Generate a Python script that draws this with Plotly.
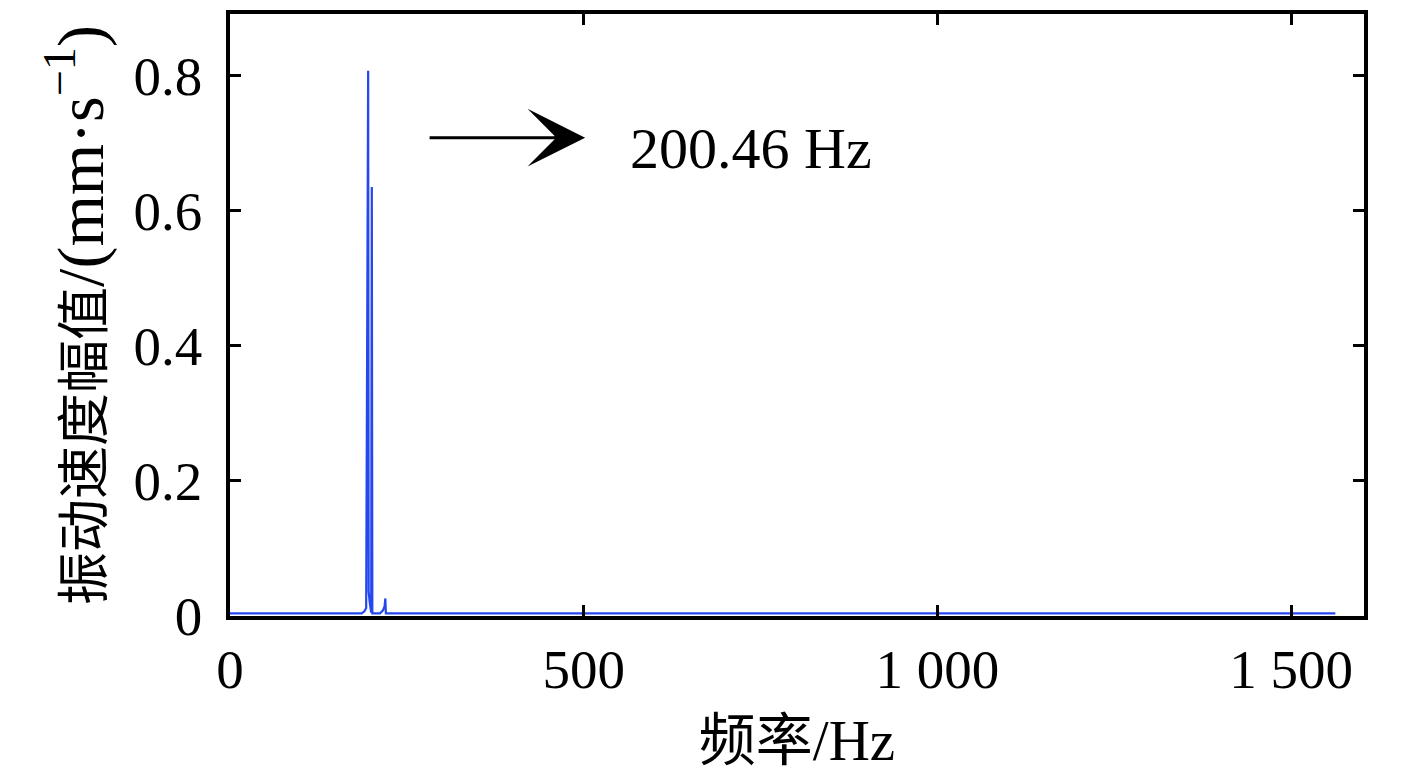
import plotly.graph_objects as go

# spectrum (Hz, mm/s)
freq = [0, 100, 186, 190, 192.5, 195.3, 196.0, 197.5, 199.6, 200.46, 201.2, 205,
        212, 216, 218.5, 219.6, 220.3, 226, 500, 1000, 1562.5]
amp = [0.004, 0.004, 0.004, 0.007, 0.012, 0.807, 0.036, 0.02, 0.005, 0.635, 0.004, 0.004,
       0.004, 0.008, 0.014, 0.026, 0.004, 0.004, 0.004, 0.004, 0.004]

x_ticks = [0, 500, 1000, 1500]
x_tick_text = ["0", "500", "1 000", "1 500"]
y_ticks = [0, 0.2, 0.4, 0.6, 0.8]
y_tick_text = ["0", "0.2", "0.4", "0.6", "0.8"]

peak_label = "200.46 Hz"

font_family = "Liberation Serif, Times New Roman, Noto Sans CJK SC"

fig = go.Figure()
fig.add_trace(go.Scatter(x=freq, y=amp, mode="lines",
                         line=dict(color="#2447f0", width=2.2), showlegend=False))

fig.add_annotation(x=502, y=0.708, ax=280, ay=0.708, xref="x", yref="y",
                   axref="x", ayref="y", text="", showarrow=True,
                   arrowhead=3, arrowsize=3.2, arrowwidth=3, arrowcolor="black")
fig.add_annotation(x=562, y=0.692, xref="x", yref="y", text=peak_label,
                   showarrow=False, xanchor="left",
                   font=dict(family=font_family, size=58, color="black"))

axis_style = dict(showline=True, linewidth=3.5, linecolor="black", mirror="ticks",
                  ticks="inside", ticklen=11, tickwidth=3, tickcolor="black",
                  showgrid=False, zeroline=False,
                  tickfont=dict(family=font_family, size=55, color="black"))

fig.update_xaxes(range=[0, 1603], tickvals=x_ticks, ticktext=x_tick_text,
                 ticklabelstandoff=2,
                 title=dict(text="频率/Hz", standoff=22,
                            font=dict(family=font_family, size=57, color="black")),
                 **axis_style)
fig.update_yaxes(range=[0, 0.891], tickvals=y_ticks, ticktext=y_tick_text,
                 ticklabelstandoff=13,
                 title=dict(text="振动速度幅值<span style='font-size:66px'>/(mm·s<sup>−1</sup>)</span>",
                            standoff=14,
                            font=dict(family=font_family, size=53, color="black")),
                 **axis_style)

# the page body adds 8 px, so the margins are shifted to keep the plot area in place
fig.update_layout(width=1417, height=770, plot_bgcolor="white", paper_bgcolor="white",
                  margin=dict(l=222, r=61, t=2, b=162))

fig.write_html("out.html")
